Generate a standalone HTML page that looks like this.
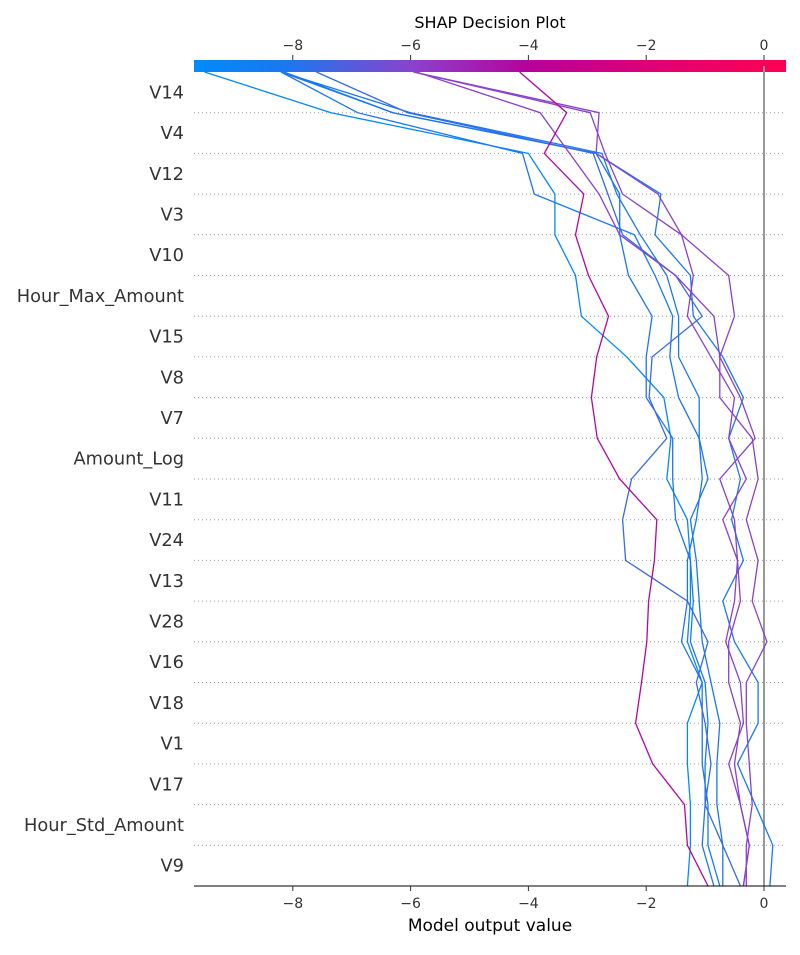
<!DOCTYPE html>
<html><head><meta charset="utf-8"><style>
body{margin:0;background:#fff;font-family:"Liberation Sans","DejaVu Sans",sans-serif;}
svg text{font-family:"DejaVu Sans","Liberation Sans",sans-serif;}
</style></head><body>
<svg id="chart" width="800" height="950" xmlns="http://www.w3.org/2000/svg">
<defs><linearGradient id="cb" x1="0" x2="1" y1="0" y2="0">
<stop offset="0" stop-color="#008bfb"/><stop offset="0.15" stop-color="#1a78f0"/><stop offset="0.37" stop-color="#8a42cc"/><stop offset="0.57" stop-color="#b7009a"/><stop offset="0.78" stop-color="#e00074"/><stop offset="1" stop-color="#ff0052"/></linearGradient></defs>
<text x="490" y="28" font-size="16" text-anchor="middle" fill="#000">SHAP Decision Plot</text>
<rect x="194" y="60" width="592" height="12" fill="url(#cb)"/>
<g id="grid"></g><g id="lines"></g><g id="axes"></g>
</svg>
<script>
const features=["V14","V4","V12","V3","V10","Hour_Max_Amount","V15","V8","V7","Amount_Log","V11","V24","V13","V28","V16","V18","V1","V17","Hour_Std_Amount","V9"];
const xTicks=[-8,-6,-4,-2,0];
const sM=[-4.15,-3.35,-3.73,-3.06,-3.2,-2.98,-2.64,-2.84,-2.93,-2.83,-2.45,-1.82,-1.86,-1.96,-1.99,-2.08,-2.18,-1.89,-1.35,-1.3,-0.95];
const sP1=[-5.95,-2.8,-2.85,-1.8,-1.4,-1.2,-1.3,-0.9,-0.5,-0.6,-0.3,-0.7,-0.45,-0.5,-0.65,-0.4,-0.35,-0.6,-0.4,-0.25,-0.35];
const sP2=[-5.95,-2.95,-2.7,-2.4,-1.4,-0.6,-0.5,-0.75,-0.75,-0.2,-0.1,-0.3,-0.1,-0.2,0.05,-0.3,-0.3,-0.25,-0.2,-0.3,-0.3];
const sP3=[-5.9,-3.8,-3.3,-2.8,-2.45,-1.5,-0.85,-0.75,-0.4,-0.15,-0.75,-0.5,-0.45,-0.4,-0.6,-0.6,-0.4,-0.5,-0.4,-0.25,-0.35];
const sP4=[-7.6,-6.05,-2.9,-2.65,-2.4,-1.5,-1.05,-1.9,-1.95,-1.65,-2.25,-2.4,-2.35,-1.3,-0.95,-1.15,-1.0,-0.9,-1.0,-0.7,-0.4];
const sB1=[-8.2,-6.3,-2.85,-1.75,-1.85,-1.25,-1.2,-0.7,-0.35,-0.6,-0.4,-0.55,-0.35,-0.7,-0.5,-0.1,-0.1,-0.45,-0.15,0.15,0.1];
const sB2=[-8.2,-6.0,-2.75,-2.5,-2.1,-1.65,-1.45,-1.45,-1.1,-1.1,-0.95,-1.25,-1.15,-1.1,-1.05,-0.9,-0.75,-0.8,-0.8,-0.7,-0.7];
const sB3=[-8.15,-6.3,-2.85,-2.45,-2.45,-2.3,-1.9,-2.0,-2.0,-1.55,-1.55,-1.5,-1.25,-1.2,-1.25,-1.0,-0.95,-1.0,-1.0,-1.05,-0.85];
const sB4=[-8.2,-6.9,-4.1,-3.9,-2.2,-1.85,-1.55,-1.6,-1.45,-1.1,-1.05,-1.15,-1.3,-1.3,-1.4,-1.05,-1.05,-1.05,-0.95,-0.95,-0.75];
const sL1=[-9.5,-7.35,-4.0,-3.55,-3.55,-3.2,-3.1,-2.33,-1.7,-1.58,-1.65,-1.3,-1.25,-1.25,-1.3,-1.05,-1.3,-1.3,-1.25,-1.25,-1.3];
const series=[sL1,sB1,sB2,sB3,sB4,sP4,sP1,sP2,sP3,sM];
const NS="http://www.w3.org/2000/svg";
const x=v=>764+58.9*v;
const y=k=>72+k*40.7;
function mk(tag,attrs,parent){const e=document.createElementNS(NS,tag);for(const k in attrs)e.setAttribute(k,attrs[k]);parent.appendChild(e);return e;}
function color(v){const t=Math.max(0,Math.min(1,(v+9.68)/10.05));const st=[[0,[0,139,251]],[0.15,[26,120,240]],[0.37,[138,66,204]],[0.57,[183,0,154]],[0.78,[224,0,116]],[1,[255,0,82]]];for(let i=1;i<st.length;i++){if(t<=st[i][0]){const a=st[i-1],b=st[i];const f=(t-a[0])/(b[0]-a[0]);return "rgb("+a[1].map((c,j)=>Math.round(c+(b[1][j]-c)*f)).join(",")+")";}}return "rgb(255,0,82)";}
const grid=document.getElementById('grid'),lines=document.getElementById('lines'),axes=document.getElementById('axes');
for(let k=1;k<features.length;k++){const l=mk('line',{x1:194,x2:786,y1:y(k),y2:y(k),stroke:'#999','stroke-width':1,'stroke-dasharray':'1,3'},grid);

}
features.forEach((f,i)=>{const t=mk('text',{x:184,y:y(i+0.5)+6,'font-size':17.8,'text-anchor':'end',fill:'#333'},axes);t.textContent=f;

});
const zl=mk('line',{x1:x(0),x2:x(0),y1:66,y2:886,stroke:'#999','stroke-width':2},grid);


series.forEach((s,i)=>{const pts=s.map((v,k)=>x(v).toFixed(1)+","+y(k).toFixed(1)).join(" ");
const p=mk('polyline',{points:pts,fill:'none',stroke:color(s[0]),'stroke-width':1.3},lines);

});
const ax=mk('line',{x1:194,x2:786,y1:886,y2:886,stroke:'#000','stroke-width':1},axes);


xTicks.forEach(v=>{
const t1=mk('line',{x1:x(v),x2:x(v),y1:886,y2:891,stroke:'#333'},axes);


const l1=mk('text',{x:x(v),y:908,'font-size':14,'text-anchor':'middle',fill:'#333'},axes);l1.textContent=(v<0?'\u2212':'')+Math.abs(v);


const t2=mk('line',{x1:x(v),x2:x(v),y1:55,y2:60,stroke:'#333'},axes);


const l2=mk('text',{x:x(v),y:50,'font-size':14,'text-anchor':'middle',fill:'#333'},axes);l2.textContent=(v<0?'\u2212':'')+Math.abs(v);

});
const xt=mk('text',{x:490,y:931,'font-size':17,'text-anchor':'middle',fill:'#000'},axes);xt.textContent='Model output value';


</script>
</body></html>
